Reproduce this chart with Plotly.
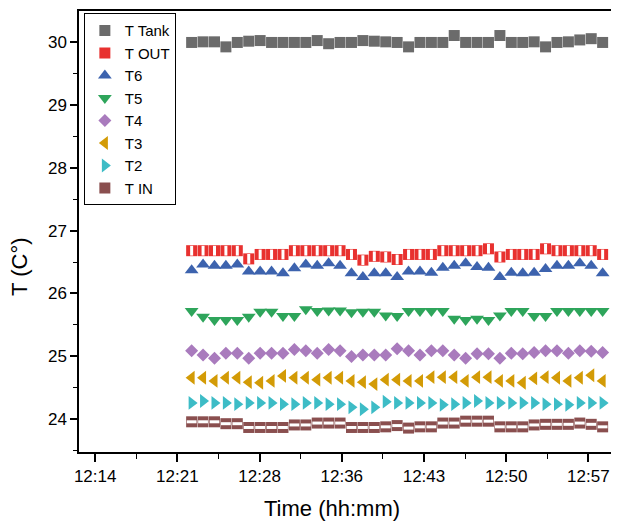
import pandas as pd
import plotly.graph_objects as go

# one reading per minute
times = pd.date_range("2023-01-01 12:22:51", periods=37, freq="1min")

t_tank = [29.99, 30.00, 30.00, 29.92, 29.99, 30.01, 30.02, 29.99, 29.99, 29.99,
          29.99, 30.02, 29.97, 29.99, 29.99, 30.02, 30.01, 30.00, 29.99, 29.92,
          29.99, 29.99, 29.99, 30.10, 29.99, 29.99, 29.99, 30.10, 29.99, 29.99,
          30.00, 29.92, 29.99, 30.00, 30.03, 30.05, 29.99]
t_out = [26.68, 26.68, 26.68, 26.68, 26.68, 26.55, 26.62, 26.62, 26.62, 26.68,
         26.68, 26.68, 26.68, 26.68, 26.62, 26.53, 26.59, 26.58, 26.54, 26.62,
         26.62, 26.62, 26.68, 26.68, 26.68, 26.68, 26.71, 26.58, 26.62, 26.62,
         26.62, 26.71, 26.68, 26.68, 26.68, 26.68, 26.62]
t6 = [26.37, 26.46, 26.44, 26.44, 26.46, 26.35, 26.35, 26.35, 26.32, 26.40,
      26.46, 26.44, 26.48, 26.44, 26.32, 26.26, 26.32, 26.32, 26.26, 26.35,
      26.35, 26.33, 26.41, 26.44, 26.48, 26.42, 26.41, 26.26, 26.33, 26.32,
      26.33, 26.39, 26.44, 26.44, 26.48, 26.44, 26.32]
t5 = [25.72, 25.63, 25.58, 25.58, 25.58, 25.63, 25.71, 25.71, 25.64, 25.64,
      25.75, 25.72, 25.73, 25.73, 25.70, 25.71, 25.71, 25.65, 25.64, 25.72,
      25.72, 25.72, 25.72, 25.60, 25.58, 25.60, 25.58, 25.65, 25.72, 25.72,
      25.64, 25.64, 25.72, 25.72, 25.72, 25.72, 25.72]
t4 = [25.09, 25.02, 24.97, 25.05, 25.05, 24.97, 25.05, 25.05, 25.05, 25.11,
      25.09, 25.05, 25.11, 25.09, 25.00, 25.02, 25.02, 25.02, 25.12, 25.09,
      25.02, 25.09, 25.09, 25.02, 24.97, 25.04, 25.04, 24.97, 25.05, 25.04,
      25.06, 25.09, 25.09, 25.05, 25.09, 25.08, 25.06]
t3 = [24.66, 24.66, 24.61, 24.66, 24.66, 24.59, 24.58, 24.61, 24.69, 24.66,
      24.66, 24.63, 24.66, 24.66, 24.61, 24.59, 24.56, 24.63, 24.63, 24.61,
      24.61, 24.67, 24.67, 24.67, 24.61, 24.67, 24.67, 24.61, 24.61, 24.58,
      24.65, 24.67, 24.66, 24.61, 24.66, 24.70, 24.61]
t2 = [24.26, 24.29, 24.26, 24.26, 24.24, 24.26, 24.26, 24.26, 24.24, 24.24,
      24.26, 24.26, 24.24, 24.24, 24.19, 24.16, 24.19, 24.28, 24.26, 24.26,
      24.26, 24.26, 24.23, 24.24, 24.26, 24.29, 24.26, 24.26, 24.26, 24.26,
      24.26, 24.24, 24.24, 24.23, 24.26, 24.26, 24.26]
t_in = [23.96, 23.96, 23.96, 23.93, 23.93, 23.87, 23.87, 23.87, 23.87, 23.91,
        23.91, 23.94, 23.94, 23.94, 23.87, 23.87, 23.87, 23.88, 23.90, 23.86,
        23.88, 23.88, 23.94, 23.94, 23.97, 23.97, 23.97, 23.88, 23.88, 23.88,
        23.91, 23.92, 23.92, 23.92, 23.94, 23.92, 23.88]

x_tick_vals = ["2023-01-01 12:14:24", "2023-01-01 12:21:36", "2023-01-01 12:28:48",
               "2023-01-01 12:36:00", "2023-01-01 12:43:12", "2023-01-01 12:50:24",
               "2023-01-01 12:57:36"]
x_tick_text = ["12:14", "12:21", "12:28", "12:36", "12:43", "12:50", "12:57"]
y_tick_vals = [24, 25, 26, 27, 28, 29, 30]

FONT = "Liberation Sans, Arial, sans-serif"

series = [
    ("T Tank", t_tank, "square", "#6b6b6b", 11),
    ("T OUT", t_out, "square", "#e8312f", 11),
    ("T6", t6, "triangle-up", "#3d63ae", 12),
    ("T5", t5, "triangle-down", "#2ea55b", 12),
    ("T4", t4, "diamond", "#a97bbd", 10),
    ("T3", t3, "triangle-left", "#d39b06", 12),
    ("T2", t2, "triangle-right", "#3dbcc6", 12),
    ("T IN", t_in, "square", "#8a4f4f", 11),
]

fig = go.Figure()
for name, vals, sym, col, sz in series:
    fig.add_trace(go.Scatter(
        x=times, y=vals, mode="markers", name=name, legendgroup=name,
        marker=dict(symbol=sym, size=sz, color=col, line=dict(width=0)),
    ))
    if name == "T OUT":
        fig.add_trace(go.Scatter(
            x=times, y=vals, mode="markers", legendgroup=name, showlegend=False,
            marker=dict(symbol="line-ns", size=7, color="white",
                        line=dict(width=3, color="white")),
        ))
    if name == "T IN":
        fig.add_trace(go.Scatter(
            x=times, y=vals, mode="markers", legendgroup=name, showlegend=False,
            marker=dict(symbol="line-ew", size=7, color="white",
                        line=dict(width=3, color="white")),
        ))

# the page body has an 8px default margin, so the figure is 8px smaller
fig.update_layout(
    width=611, height=514,
    margin=dict(l=71, r=0, t=3, b=70, autoexpand=False),
    paper_bgcolor="white", plot_bgcolor="white",
    font=dict(family=FONT, color="black", size=16),
    showlegend=True,
    legend=dict(x=0.009, y=0.995, xanchor="left", yanchor="top",
                bgcolor="white", bordercolor="black", borderwidth=1,
                font=dict(size=15, family=FONT), tracegroupgap=0),
    xaxis=dict(
        type="date", automargin=False,
        range=["2023-01-01 12:12:59", "2023-01-01 13:00:17"],
        tickvals=x_tick_vals, ticktext=x_tick_text,
        showgrid=False, zeroline=False,
        showline=True, linecolor="black", linewidth=1.5, mirror=True,
        ticks="outside", ticklen=8, tickwidth=1.5, tickcolor="black",
        tickfont=dict(size=17),
        minor=dict(ticks="outside", ticklen=5, tickwidth=1.2, tickcolor="black",
                   dtick=216000, tick0="2023-01-01 12:14:24", showgrid=False),
    ),
    yaxis=dict(
        range=[23.48, 30.49], automargin=False,
        tickvals=y_tick_vals,
        showgrid=False, zeroline=False,
        showline=True, linecolor="black", linewidth=1.5, mirror=True,
        ticks="outside", ticklen=7, tickwidth=1.5, tickcolor="black",
        tickfont=dict(size=17),
        minor=dict(ticks="outside", ticklen=4, tickwidth=1.2, tickcolor="black",
                   dtick=0.5, showgrid=False),
    ),
    annotations=[
        dict(text="Time (hh:mm)", xref="paper", yref="paper", x=0.469, y=-0.127,
             xanchor="center", yanchor="middle", showarrow=False,
             font=dict(size=22, family=FONT)),
        dict(text="T (C°)", xref="paper", yref="paper", x=-0.109, y=0.42,
             xanchor="center", yanchor="middle", textangle=-90, showarrow=False,
             font=dict(size=22, family=FONT)),
    ],
)

fig.write_html("out.html")
